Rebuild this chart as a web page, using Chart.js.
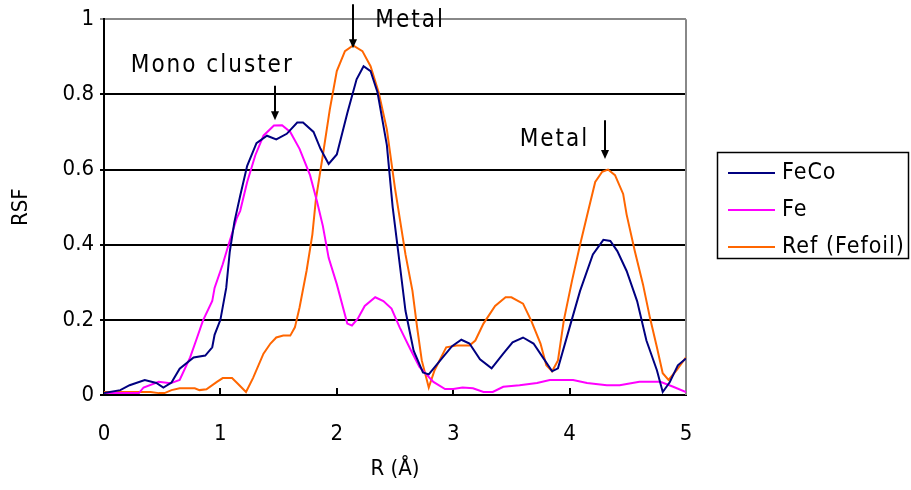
<!DOCTYPE html>
<html>
<head>
<meta charset="utf-8">
<script src="https://cdn.jsdelivr.net/npm/chart.js@4"></script>
<style>
  html, body { margin: 0; padding: 0; background: #fff; }
  #wrap { width: 911px; height: 490px; }
</style>
</head>
<body>
<div id="wrap"><canvas id="rsfChart" width="911" height="490"></canvas></div>
<script>
// R (Angstrom) and RSF values
const feCoR = [0, 0.14, 0.22, 0.35, 0.45, 0.51, 0.58, 0.65, 0.77, 0.87, 0.93, 0.95, 1.0, 1.05, 1.08, 1.12, 1.17, 1.23, 1.31, 1.40, 1.48, 1.57, 1.66, 1.71, 1.80, 1.86, 1.93, 2.0, 2.09, 2.17, 2.23, 2.29, 2.35, 2.43, 2.48, 2.52, 2.59, 2.66, 2.74, 2.79, 2.91, 2.99, 3.07, 3.14, 3.23, 3.33, 3.43, 3.51, 3.60, 3.69, 3.77, 3.85, 3.90, 4.0, 4.09, 4.20, 4.29, 4.35, 4.41, 4.49, 4.58, 4.66, 4.75, 4.80, 4.86, 4.93, 5.0];
const feCoRSF = [0.005, 0.013, 0.026, 0.04, 0.032, 0.02, 0.033, 0.07, 0.10, 0.105, 0.127, 0.16, 0.2, 0.285, 0.38, 0.46, 0.53, 0.61, 0.67, 0.69, 0.68, 0.695, 0.725, 0.725, 0.70, 0.655, 0.615, 0.64, 0.75, 0.84, 0.875, 0.862, 0.805, 0.665, 0.50, 0.40, 0.224, 0.118, 0.06, 0.055, 0.10, 0.13, 0.147, 0.137, 0.095, 0.071, 0.11, 0.14, 0.153, 0.137, 0.10, 0.063, 0.071, 0.18, 0.277, 0.374, 0.413, 0.41, 0.383, 0.33, 0.25, 0.145, 0.066, 0.008, 0.034, 0.079, 0.097];

const feR = [0, 0.3, 0.34, 0.47, 0.57, 0.65, 0.74, 0.80, 0.85, 0.93, 0.95, 1.02, 1.07, 1.14, 1.17, 1.23, 1.30, 1.37, 1.46, 1.53, 1.60, 1.68, 1.77, 1.83, 1.88, 1.93, 2.0, 2.09, 2.13, 2.18, 2.24, 2.33, 2.40, 2.47, 2.54, 2.63, 2.71, 2.83, 2.93, 3.0, 3.08, 3.17, 3.26, 3.34, 3.43, 3.57, 3.72, 3.83, 4.03, 4.15, 4.32, 4.43, 4.60, 4.78, 4.89, 5.0];
const feRSF = [0.005, 0.005, 0.02, 0.035, 0.031, 0.04, 0.10, 0.153, 0.198, 0.25, 0.285, 0.348, 0.40, 0.47, 0.49, 0.567, 0.638, 0.69, 0.717, 0.718, 0.70, 0.655, 0.585, 0.515, 0.45, 0.365, 0.295, 0.19, 0.185, 0.203, 0.237, 0.26, 0.25, 0.23, 0.18, 0.123, 0.075, 0.035, 0.016, 0.016, 0.02, 0.018, 0.008, 0.008, 0.022, 0.026, 0.032, 0.04, 0.04, 0.032, 0.026, 0.026, 0.035, 0.035, 0.022, 0.008];

const refR = [0, 0.4, 0.47, 0.52, 0.58, 0.65, 0.78, 0.82, 0.88, 0.97, 1.02, 1.10, 1.15, 1.22, 1.28, 1.37, 1.43, 1.48, 1.54, 1.60, 1.64, 1.68, 1.74, 1.79, 1.82, 1.88, 1.94, 2.0, 2.07, 2.14, 2.22, 2.29, 2.36, 2.43, 2.50, 2.59, 2.65, 2.69, 2.73, 2.79, 2.84, 2.94, 3.03, 3.14, 3.19, 3.26, 3.36, 3.45, 3.50, 3.60, 3.67, 3.75, 3.80, 3.85, 3.90, 3.95, 4.02, 4.09, 4.16, 4.22, 4.28, 4.33, 4.39, 4.46, 4.49, 4.56, 4.63, 4.69, 4.75, 4.80, 4.85, 4.92, 5.0];
const refRSF = [0.008, 0.008, 0.005, 0.005, 0.013, 0.018, 0.018, 0.013, 0.015, 0.035, 0.045, 0.045, 0.03, 0.008, 0.045, 0.11, 0.137, 0.153, 0.158, 0.158, 0.18, 0.233, 0.33, 0.427, 0.52, 0.638, 0.76, 0.862, 0.915, 0.93, 0.915, 0.875, 0.805, 0.707, 0.55, 0.374, 0.277, 0.18, 0.092, 0.02, 0.066, 0.127, 0.132, 0.132, 0.145, 0.19, 0.237, 0.26, 0.26, 0.243, 0.198, 0.137, 0.079, 0.063, 0.092, 0.198, 0.303, 0.40, 0.49, 0.567, 0.594, 0.6, 0.585, 0.535, 0.48, 0.383, 0.295, 0.206, 0.127, 0.058, 0.04, 0.066, 0.1];

const seriesNames = ['FeCo', 'Fe', 'Ref (Fefoil)'];
const xTickLabels = ['0', '1', '2', '3', '4', '5'];
const yTickLabels = ['0', '0.2', '0.4', '0.6', '0.8', '1'];

const FONT = "'Liberation Sans Narrow', 'DejaVu Sans Condensed', sans-serif";

function pairs(xs, ys) {
    return xs.map(function(x, i) { return { x: x, y: ys[i] }; });
}

// annotations (text + down arrow), in data units
const notes = [
    { text: 'Mono cluster', tx: 0.93, ty: 0.876, ax: 1.47, ay0: 0.823, ay1: 0.731 },
    { text: 'Metal', tx: 2.63, ty: 0.997, ax: 2.14, ay0: 1.04, ay1: 0.923 },
    { text: 'Metal', tx: 3.87, ty: 0.68, ax: 4.30, ay0: 0.731, ay1: 0.628 }
];

const decorations = {
    id: 'decorations',
    beforeDatasetsDraw(chart) {
        const ctx = chart.ctx, a = chart.chartArea, xs = chart.scales.x;
        ctx.save();
        // right border
        ctx.strokeStyle = '#888';
        ctx.lineWidth = 2;
        ctx.beginPath();
        ctx.moveTo(a.right, a.top);
        ctx.lineTo(a.right, a.bottom);
        ctx.stroke();
        // x tick marks pointing inward
        ctx.strokeStyle = '#000';
        for (let v = 1; v < 5; v++) {
            const px = Math.round(xs.getPixelForValue(v));
            ctx.beginPath();
            ctx.moveTo(px, a.bottom);
            ctx.lineTo(px, a.bottom - 7);
            ctx.stroke();
        }
        ctx.restore();
    },
    afterDraw(chart) {
        const ctx = chart.ctx, xs = chart.scales.x, ys = chart.scales.y;
        ctx.save();
        ctx.fillStyle = '#000';
        ctx.strokeStyle = '#000';
        ctx.font = '24px ' + FONT;
        ctx.textAlign = 'center';
        ctx.textBaseline = 'middle';
        ctx.letterSpacing = '2px';
        notes.forEach(function(n) {
            ctx.fillText(n.text, xs.getPixelForValue(n.tx), ys.getPixelForValue(n.ty));
            const px = Math.round(xs.getPixelForValue(n.ax));
            const y0 = ys.getPixelForValue(n.ay0), y1 = ys.getPixelForValue(n.ay1);
            ctx.lineWidth = 2;
            ctx.beginPath();
            ctx.moveTo(px, y0);
            ctx.lineTo(px, y1 - 7);
            ctx.stroke();
            ctx.beginPath();
            ctx.moveTo(px - 4, y1 - 9);
            ctx.lineTo(px + 4, y1 - 9);
            ctx.lineTo(px, y1);
            ctx.closePath();
            ctx.fill();
        });

        // legend box
        ctx.letterSpacing = '1px';
        ctx.lineWidth = 1.5;
        ctx.strokeRect(717.5, 152.5, 191, 106);
        ctx.font = '23px ' + FONT;
        ctx.textAlign = 'left';
        chart.data.datasets.forEach(function(ds, i) {
            const y = 173 + i * 37;
            ctx.strokeStyle = ds.borderColor;
            ctx.lineWidth = 2;
            ctx.beginPath();
            ctx.moveTo(728, y);
            ctx.lineTo(775, y);
            ctx.stroke();
            ctx.fillStyle = '#000';
            ctx.fillText(ds.label, 782, y);
        });
        ctx.restore();
    }
};

new Chart(document.getElementById('rsfChart').getContext('2d'), {
    type: 'line',
    data: {
        datasets: [{
            label: seriesNames[0],
            data: pairs(feCoR, feCoRSF),
            borderColor: '#000080'
        }, {
            label: seriesNames[1],
            data: pairs(feR, feRSF),
            borderColor: '#FF00FF'
        }, {
            label: seriesNames[2],
            data: pairs(refR, refRSF),
            borderColor: '#FF6600'
        }]
    },
    options: {
        responsive: false,
        animation: false,
        layout: { padding: { top: 16, right: 225, left: 0, bottom: 0 } },
        elements: {
            line: { borderWidth: 2, tension: 0, fill: false },
            point: { radius: 0 }
        },
        plugins: {
            legend: { display: false },
            tooltip: { enabled: false }
        },
        scales: {
            x: {
                type: 'linear',
                min: 0,
                max: 5,
                afterFit: function(s) { s.height = 95; },
                grid: { color: 'rgba(0,0,0,0)', drawTicks: false },
                border: { color: '#000', width: 2 },
                ticks: {
                    stepSize: 1,
                    padding: 26,
                    color: '#000',
                    font: { family: FONT, size: 22 },
                    maxRotation: 0,
                    callback: function(value) { return xTickLabels[value]; }
                },
                title: {
                    display: true,
                    text: 'R (Å)',
                    color: '#000',
                    font: { family: FONT, size: 22 },
                    padding: { top: 0, bottom: 8 }
                }
            },
            y: {
                min: 0,
                max: 1,
                afterFit: function(s) { s.width = 104; },
                grid: {
                    color: function(c) { return c.tick.value >= 1 ? '#888' : '#000'; },
                    lineWidth: 2,
                    tickLength: 4
                },
                border: { color: '#000', width: 2 },
                ticks: {
                    stepSize: 0.2,
                    padding: 6,
                    color: '#000',
                    font: { family: FONT, size: 22 },
                    callback: function(value) { return yTickLabels[Math.round(value * 5)]; }
                },
                title: {
                    display: true,
                    text: 'RSF',
                    color: '#000',
                    font: { family: FONT, size: 22 },
                    padding: { top: 8, bottom: 0 }
                }
            }
        }
    },
    plugins: [decorations]
});
</script>
</body>
</html>
